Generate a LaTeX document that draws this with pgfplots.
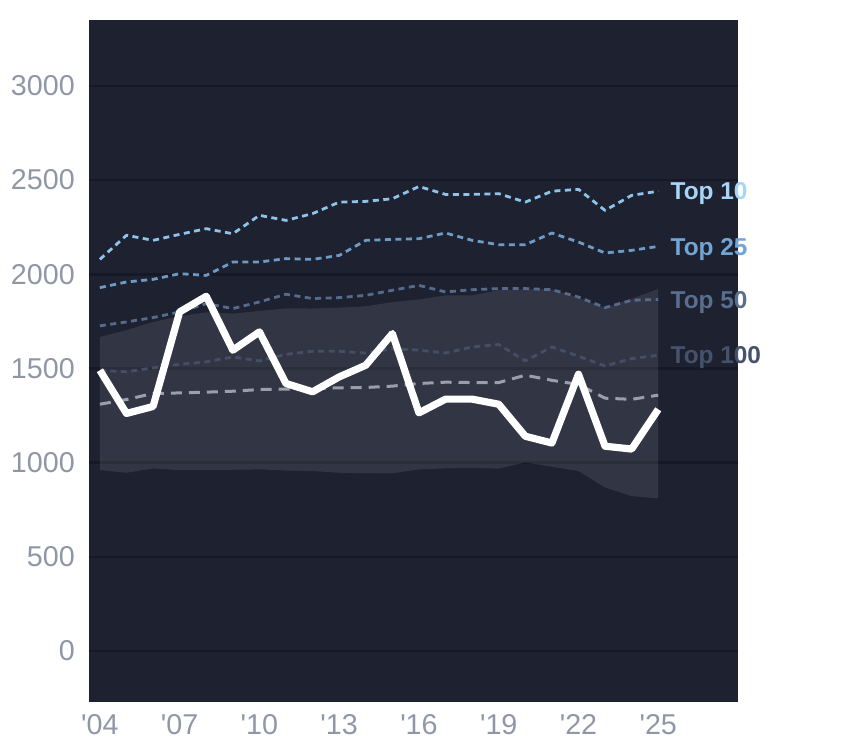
\documentclass[border=0pt]{standalone}
\usepackage{fontspec}
\setmainfont{Liberation Sans}
\usepackage{pgfplots}
\usepackage{pgfplotstable}
\pgfplotsset{compat=1.18}
\usepgfplotslibrary{fillbetween}
\definecolor{bgc}{RGB}{29,33,48}
\definecolor{gridc}{RGB}{22,25,37}
\definecolor{tickc}{HTML}{8F97A6}
\definecolor{topA}{HTML}{8EC3EA}
\definecolor{topAl}{HTML}{A7D5F8}
\definecolor{topB}{HTML}{6E9BC5}
\definecolor{topBl}{HTML}{72A5D3}
\definecolor{topC}{HTML}{566B8B}
\definecolor{topCl}{HTML}{5A6E8E}
\definecolor{topD}{HTML}{444F66}
\definecolor{topDl}{HTML}{46526B}
\definecolor{avgc}{HTML}{9A9FAB}
% yr = year - 2004
\pgfplotstableread{
yr top10 top25 top50 top100 avg lo hi main
0 2079 1929 1726 1490 1310 960 1667 1490
1 2207 1959 1747 1482 1335 946 1703 1261
2 2180 1973 1770 1503 1367 969 1747 1298
3 2212 2003 1800 1522 1370 960 1777 1800
4 2242 1994 1844 1535 1374 960 1798 1883
5 2215 2065 1818 1561 1379 962 1791 1597
6 2313 2065 1853 1540 1388 964 1805 1694
7 2286 2083 1894 1575 1390 958 1819 1420
8 2322 2079 1871 1591 1393 955 1818 1376
9 2383 2100 1876 1591 1397 946 1823 1455
10 2387 2180 1888 1582 1399 944 1830 1517
11 2401 2185 1915 1605 1406 943 1852 1685
12 2466 2189 1941 1597 1420 964 1866 1264
13 2424 2219 1906 1582 1427 969 1888 1337
14 2424 2180 1918 1614 1425 972 1888 1337
15 2428 2157 1924 1627 1425 968 1915 1310
16 2383 2157 1924 1540 1464 1001 1920 1140
17 2441 2219 1918 1614 1437 978 1920 1104
18 2451 2171 1879 1565 1415 955 1875 1469
19 2339 2113 1823 1513 1342 868 1822 1087
20 2419 2127 1862 1552 1336 822 1870 1072
21 2441 2148 1866 1570 1358 810 1922 1283
}\datatable
\begin{document}
\begin{tikzpicture}
\path (0,0) rectangle (844bp,748bp);
\begin{axis}[
  at={(89bp,46bp)}, anchor=south west,
  scale only axis, width=649bp, height=682bp,
  xmin=-0.41, xmax=24.0, ymin=-271, ymax=3350,
  axis background/.style={fill=bgc},
  axis line style={draw=none},
  major tick length=0pt,
  ytick={0,500,1000,1500,2000,2500,3000},
  yticklabels={0,500,1000,1500,2000,2500,3000},
  xtick={0,3,6,9,12,15,18,21},
  xticklabels={\textquotesingle04,\textquotesingle07,\textquotesingle10,\textquotesingle13,\textquotesingle16,\textquotesingle19,\textquotesingle22,\textquotesingle25},
  ymajorgrids, grid style={draw=gridc, line width=2.5bp},
  tick label style={font=\fontsize{28.8}{30}\selectfont, text=tickc, inner sep=0pt},
  yticklabel style={anchor=east, xshift=-14bp},
  xticklabel style={anchor=north, yshift=-12bp},
  clip=false,
  every axis plot/.append style={line join=round},
]
\addplot[name path=hi, draw=none] table[x=yr, y=hi] {\datatable};
\addplot[name path=lo, draw=none] table[x=yr, y=lo] {\datatable};
\addplot[fill=white, fill opacity=0.095, draw=none] fill between[of=hi and lo];
\addplot[topD, line width=2.8bp, dash pattern=on 6bp off 4.5bp] table[x=yr, y=top100] {\datatable}
  node[pos=1, anchor=base west, inner sep=0pt, xshift=11bp, yshift=-8.7bp, text=topDl, font=\fontsize{24.5}{26}\selectfont\bfseries] {Top 100};
\addplot[topC, line width=2.8bp, dash pattern=on 6bp off 4.5bp] table[x=yr, y=top50] {\datatable}
  node[pos=1, anchor=base west, inner sep=0pt, xshift=11bp, yshift=-8.7bp, text=topCl, font=\fontsize{24.5}{26}\selectfont\bfseries] {Top 50};
\addplot[topB, line width=2.8bp, dash pattern=on 6bp off 4.5bp] table[x=yr, y=top25] {\datatable}
  node[pos=1, anchor=base west, inner sep=0pt, xshift=11bp, yshift=-8.7bp, text=topBl, font=\fontsize{24.5}{26}\selectfont\bfseries] {Top 25};
\addplot[topA, line width=2.8bp, dash pattern=on 6bp off 4.5bp] table[x=yr, y=top10] {\datatable}
  node[pos=1, anchor=base west, inner sep=0pt, xshift=11bp, yshift=-8.7bp, text=topAl, font=\fontsize{24.5}{26}\selectfont\bfseries] {Top 10};
\addplot[avgc, line width=3bp, dash pattern=on 11bp off 7bp] table[x=yr, y=avg] {\datatable};
\addplot[white, line width=7.2bp] table[x=yr, y=main] {\datatable};
\end{axis}
\end{tikzpicture}
\end{document}
